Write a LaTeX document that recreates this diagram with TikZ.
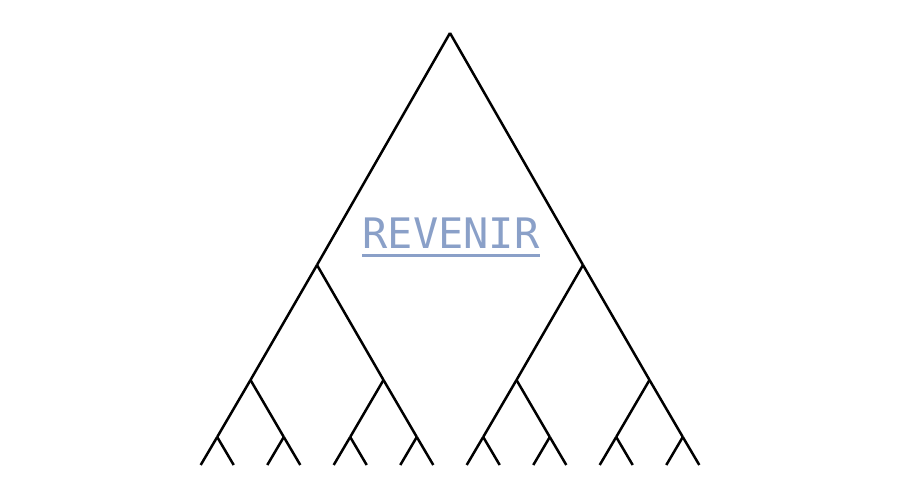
\documentclass[tikz,border=0pt]{standalone}
\usepackage{fontspec}
\newfontfamily\revfont{DejaVu Sans Mono}
\usetikzlibrary{calc}
\definecolor{revcol}{RGB}{138,160,200}
\tikzset{
  branch/.style={line width=2.5pt, black, line cap=butt, line join=miter},
  title/.style={text=revcol, inner sep=0pt, anchor=base, font=\revfont\fontsize{42}{42}\selectfont},
  uline/.style={draw=revcol, line width=3pt}
}
\begin{document}
\begin{tikzpicture}[x=1pt,y=-1pt]
\useasboundingbox (0,0) rectangle (900,500);
\coordinate (r) at (450,33);
\foreach \a/\sa in {L/-1,R/1}{
  \coordinate (\a) at ($(r)+(\sa*133,232)$);
  \draw[branch] (r) -- (\a);
  \foreach \b/\sb in {L/-1,R/1}{
    \coordinate (\a\b) at ($(\a)+(\sb*66.5,115)$);
    \draw[branch] (\a) -- (\a\b);
    \foreach \c/\sc in {L/-1,R/1}{
      \coordinate (\a\b\c) at ($(\a\b)+(\sc*33.3,57)$);
      \draw[branch] (\a\b) -- (\a\b\c);
      \foreach \d/\sd in {L/-1,R/1}{
        \coordinate (\a\b\c\d) at ($(\a\b\c)+(\sd*16.5,28)$);
        \draw[branch] (\a\b\c) -- (\a\b\c\d);
      }
    }
  }
}
\node[title] (t) at (451,248) {REVENIR};
\draw[uline] ([yshift=-7pt]t.base west) -- ([yshift=-7pt]t.base east);
\end{tikzpicture}
\end{document}
